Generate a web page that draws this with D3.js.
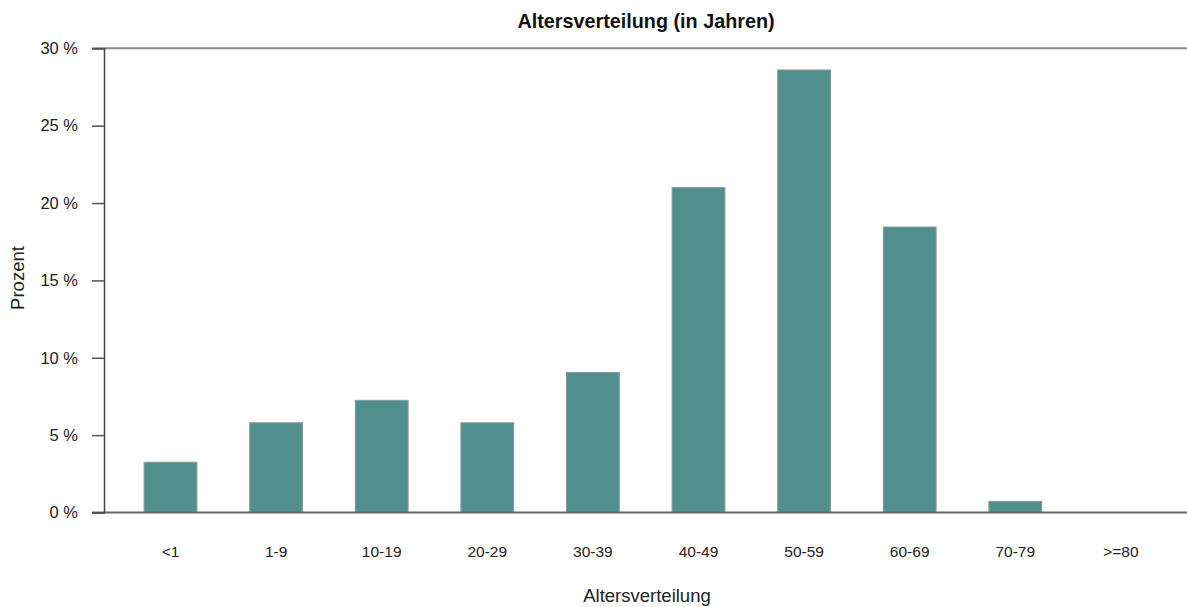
<!DOCTYPE html>
<html><head><meta charset="utf-8">
<script src="https://cdn.jsdelivr.net/npm/d3@7/dist/d3.min.js"></script>
<style>body{margin:0;background:#fff;} text{font-family:"Liberation Sans",Arial,sans-serif;}</style>
</head><body>
<svg id="c" width="1187" height="607"></svg>
<script>
const categories = ["<1","1-9","10-19","20-29","30-39","40-49","50-59","60-69","70-79",">=80"];
const values = [3.25, 5.8, 7.25, 5.8, 9.05, 21.0, 28.6, 18.45, 0.72, 0.0];
const yTicks = [0, 5, 10, 15, 20, 25, 30];
const title = "Altersverteilung (in Jahren)";
const xTitle = "Altersverteilung";
const yTitle = "Prozent";

const svg = d3.select("#c");
const x = d3.scaleBand().domain(categories).range([117.7, 1173.7]).paddingInner(0.5).paddingOuter(0.25);
const y = d3.scaleLinear().domain([0, 30]).range([512.5, 48.3]);

// bars
svg.append("g").selectAll("rect").data(values).join("rect")
  .attr("x", (d,i) => x(categories[i]))
  .attr("y", d => y(d))
  .attr("width", x.bandwidth())
  .attr("height", d => y(0) - y(d))
  .attr("fill", "#508f8e")
  .attr("stroke", "#8a9a9a")
  .attr("stroke-width", 1);

// top line
svg.append("line").attr("x1", 92).attr("x2", 1187).attr("y1", y(30)).attr("y2", y(30))
  .attr("stroke", "#888").attr("stroke-width", 2);
// baseline
svg.append("line").attr("x1", 92).attr("x2", 1187).attr("y1", y(0)).attr("y2", y(0))
  .attr("stroke", "#666").attr("stroke-width", 2);

// y axis
const ya = svg.append("g").attr("transform", "translate(104,0)")
  .call(d3.axisLeft(y).tickValues(yTicks).tickSize(12).tickPadding(14).tickFormat(d => d + " %"));
ya.select(".domain").attr("stroke", "#444").attr("stroke-width", 1.5);
ya.selectAll(".tick line").attr("stroke", "#555").attr("stroke-width", 1.5);
ya.selectAll(".tick text").attr("font-size", 16.5).attr("fill", "#222")
  .attr("font-family", "'Liberation Sans', Arial, sans-serif");

// x axis labels
const xa = svg.append("g").attr("transform", "translate(0," + y(0) + ")")
  .call(d3.axisBottom(x).tickSize(0).tickPadding(33));
xa.select(".domain").remove();
xa.selectAll(".tick text").attr("font-size", 15.5).attr("fill", "#222")
  .attr("font-family", "'Liberation Sans', Arial, sans-serif");

// titles
svg.append("text").attr("x", 646).attr("y", 28).attr("text-anchor", "middle")
  .attr("font-size", 19.8).attr("font-weight", "bold").attr("fill", "#111").text(title);
svg.append("text").attr("x", 647).attr("y", 602).attr("text-anchor", "middle")
  .attr("font-size", 18.5).attr("fill", "#222").text(xTitle);
svg.append("text").attr("transform", "translate(24,278) rotate(-90)").attr("text-anchor", "middle")
  .attr("font-size", 18.5).attr("fill", "#222").text(yTitle);
</script>
</body></html>
